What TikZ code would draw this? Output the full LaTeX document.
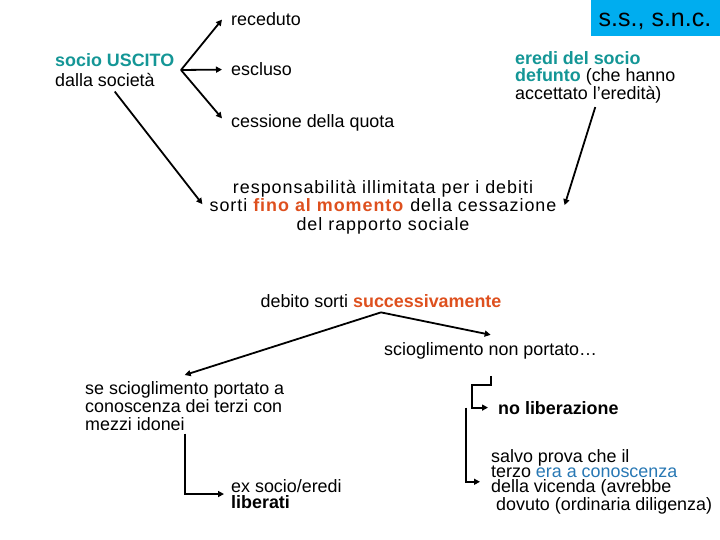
\documentclass[tikz,border=0pt]{standalone}
\usepackage{fontspec}
\setmainfont{Liberation Sans}
\usetikzlibrary{arrows.meta}
\definecolor{teal1}{RGB}{20,150,150}
\definecolor{oran}{RGB}{222,80,30}
\definecolor{blu}{RGB}{40,120,180}
\begin{document}
\begin{tikzpicture}[x=1pt,y=-1pt,
  txt/.style={inner sep=0pt,font=\fontsize{17.9}{18}\selectfont},
  arr/.style={line width=1.8pt,-{Triangle[length=6pt,width=6pt]}}]
\useasboundingbox (0,0) rectangle (720,540);
\fill[cyan] (591,0) rectangle (720,36);
\node[inner sep=0pt,font=\fontsize{25}{27}\selectfont,anchor=base] (ss) at (655,27) {s.s., s.n.c.};
\node[txt,anchor=base west] (rec) at (231,26) {receduto};
\node[txt,anchor=base west] (escl) at (231,76) {escluso};
\node[txt,anchor=base west] (cess) at (231,128) {cessione della quota};
\node[txt,anchor=north west,align=left,font=\fontsize{17.9}{20}\selectfont] (socio) at (55,53) {\textcolor{teal1}{\textbf{socio USCITO}}\\dalla società};
\coordinate (split) at (181,70);
\node[txt,anchor=north west,align=left,font=\fontsize{17.9}{17.5}\selectfont] (eredi) at (515,51) {\textcolor{teal1}{\textbf{eredi del socio}}\\\textcolor{teal1}{\textbf{defunto}} (che hanno\\accettato l’eredità)};
\node[txt,anchor=north,align=center,font=\fontsize{17.9}{18.5}\selectfont\addfontfeatures{LetterSpace=5.5}] (resp) at (383,180) {responsabilità illimitata per i debiti\\sorti \textcolor{oran}{\textbf{fino al momento}} della cessazione\\del rapporto sociale};
\node[txt,anchor=base] (deb) at (381,307) {debito sorti \textcolor{oran}{\textbf{successivamente}}};
\node[txt,anchor=base west] (nonport) at (384,355) {scioglimento non portato…};
\node[txt,anchor=north west,align=left] (sescio) at (85,381) {se scioglimento portato a\\conoscenza dei terzi con\\mezzi idonei};
\node[txt,anchor=north west,align=left,font=\fontsize{17.9}{16.5}\selectfont] (exs) at (231,479) {ex socio/eredi\\\textbf{liberati}};
\node[txt,anchor=base west] (nolib) at (498,414) {\textbf{no liberazione}};
\node[txt,anchor=north west,align=left,font=\fontsize{17.9}{15.4}\selectfont] (salvo) at (491,449) {salvo prova che il\\terzo \textcolor{blu}{era a conoscenza}\\della vicenda (avrebbe\\\hspace*{5pt}dovuto (ordinaria diligenza)};
% connectors
\draw[arr] (split) -- ([xshift=-9pt]rec.west);
\draw[arr] (split) -- ([xshift=-9pt]escl.west);
\draw[arr] (split) -- ([shift={(-9,-5)}]cess.west);
\draw[arr] ([yshift=-5pt]socio.south) -- ([shift={(-7,-3)}]resp.west);
\draw[arr] ([yshift=-4pt]eredi.south) -- ([shift={(8,-2)}]resp.east);
\draw[arr] ([yshift=-5pt]deb.south) -- ([yshift=6pt]sescio.north);
\draw[arr] ([yshift=-5pt]deb.south) -- ([yshift=7pt]nonport.north);
\draw[arr] ([yshift=-3pt]sescio.south) |- ([xshift=-7pt]exs.west);
\draw[arr] ([yshift=-17pt]nonport.south) -- ++(0,9) -- ++(-19,0) |- ([xshift=-10pt]nolib.west);
\draw[arr] ([xshift=-32pt]nolib.west) |- ([xshift=-11pt]salvo.west);
\end{tikzpicture}
\end{document}
